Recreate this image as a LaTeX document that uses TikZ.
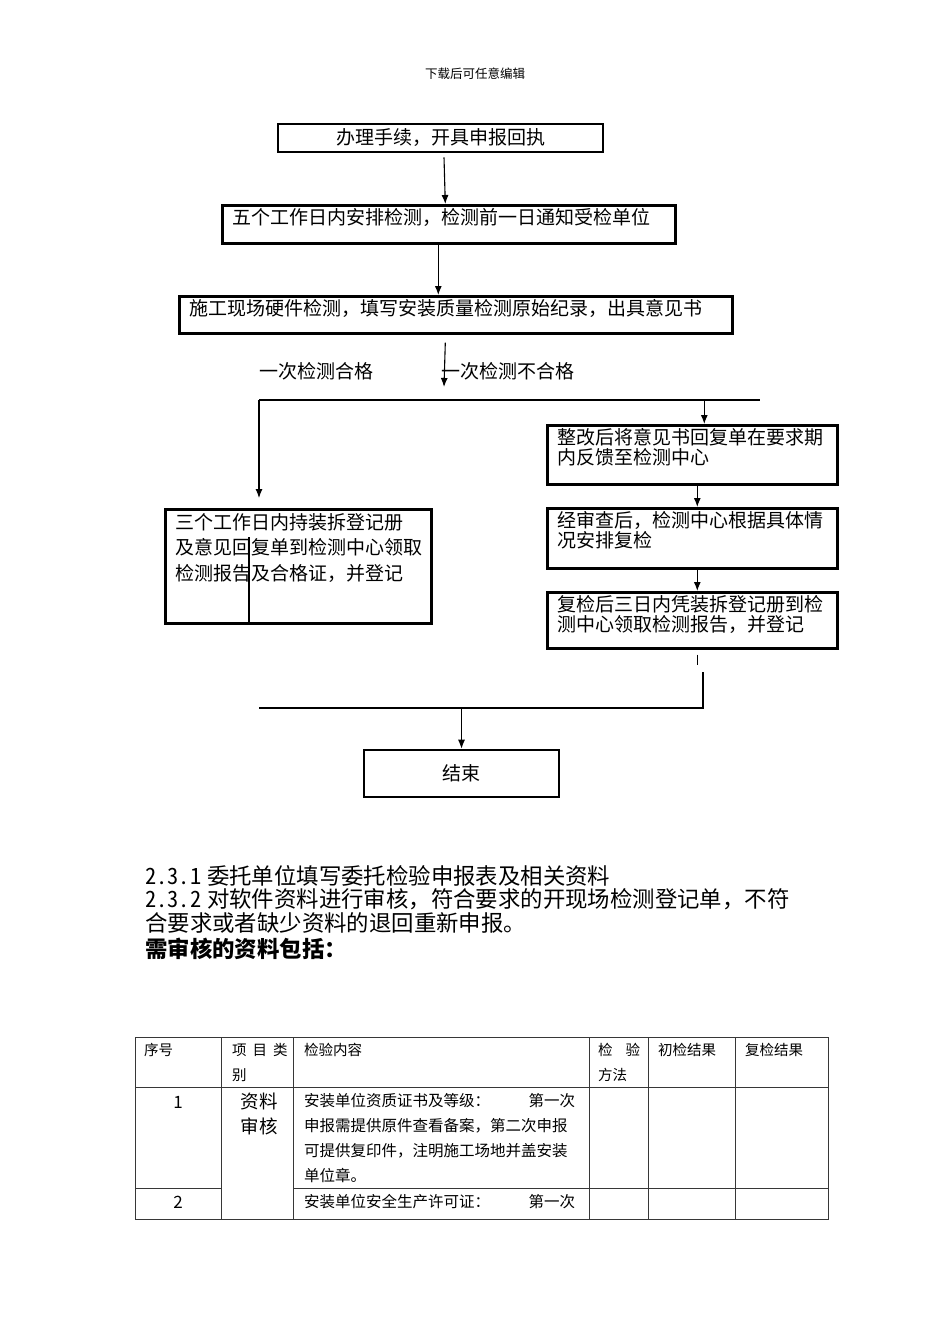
\documentclass[tikz,border=0pt]{standalone}
\usepackage{fontspec}
\setmainfont{Noto Sans CJK SC}
\usetikzlibrary{arrows.meta,calc,positioning}
\definecolor{TableGray}{RGB}{55,55,55}
\newcommand{\zihao}[2]{\fontsize{#1}{#2}\selectfont}
\newcommand{\kuangwen}[3]{\parbox[c][#2][t]{#1}{\raggedright #3}}
\newcommand{\banjiao}[1]{{\addfontfeature{RawFeature=+hwid}#1}\hspace{6pt}}

\begin{document}
\begin{tikzpicture}[x=1pt,y=-1pt,
  liuchengkuang/.style={draw,line width=2.6pt,inner xsep=10pt,inner ysep=3pt,anchor=north west,font=\zihao{19}{20}},
  zhongkuang/.style={draw,line width=2.6pt,inner sep=0pt,font=\zihao{19}{20}},
  lianxian/.style={line width=1.1pt},
  jiantou/.style={lianxian,-{Latex[length=9pt,width=7pt]}},
  biaoxian/.style={line width=0.8pt,TableGray},
  biaowen/.style={inner sep=0pt,anchor=west,font=\zihao{14.5}{25}}]
  \fill[white] (0,0) rectangle (950,1344);
  \node[inner sep=0pt,font=\zihao{12.5}{14}] (yemei) at (475,74) {下载后可任意编辑};
  % flow chart
  \node[zhongkuang,minimum width=325pt,minimum height=28pt] (shouli) at (440.5,138) {办理手续，开具申报回执};
  \node[liuchengkuang] (anpai) at (221,204) {\kuangwen{433pt}{32pt}{五个工作日内安排检测，检测前一日通知受检单位}};
  \node[liuchengkuang] (jiance) at (178,295) {\kuangwen{533pt}{31pt}{施工现场硬件检测，填写安装质量检测原始纪录，出具意见书}};
  \node[liuchengkuang,inner ysep=4pt,font=\zihao{19}{25.5}] (lingqu) at (164,508) {\kuangwen{246pt}{106pt}{三个工作日内持装拆登记册\\及意见回复单到检测中心领取\\检测报告及合格证，并登记}};
  \node[liuchengkuang] (zhenggai) at (546,424) {\kuangwen{270pt}{53pt}{整改后将意见书回复单在要求期\\内反馈至检测中心}};
  \node[liuchengkuang] (fushen) at (546,507) {\kuangwen{270pt}{54pt}{经审查后，检测中心根据具体情\\况安排复检}};
  \node[liuchengkuang] (fujian) at (546,591) {\kuangwen{270pt}{50pt}{复检后三日内凭装拆登记册到检\\测中心领取检测报告，并登记}};
  \node[zhongkuang,minimum width=195pt,minimum height=47pt] (jieshu) at (461.5,773.5) {结束};
  \node[inner sep=0pt,font=\zihao{19}{20}] (hege) at (316,371) {一次检测合格};
  \node[inner sep=0pt,anchor=west,font=\zihao{19}{20}] (buhege) at (441,371) {一次检测不合格};
  \draw[lianxian] (249,537) -- (249,622);
  \coordinate (fenzhi) at (444,387);
  \coordinate (fenL) at (259,400);
  \coordinate (fenR) at (760,400);
  \coordinate (huiL) at (259,708);
  \coordinate (huiR) at (703,708);
  \coordinate (zgru) at ($(zhenggai.north)+(12,0)$);
  \draw[jiantou] ([xshift=3.5pt,yshift=-4pt]shouli.south) -- ([xshift=-3.5pt]anpai.north);
  \draw[jiantou] ([xshift=-10.5pt]anpai.south) -- ([xshift=-17.5pt]jiance.north);
  \draw[jiantou] ([xshift=-10.5pt,yshift=-8pt]jiance.south) -- (fenzhi);
  \draw[lianxian] (fenL) -- (fenR);
  \draw[jiantou] (fenL) -- ($(lingqu.north -| fenL)+(0,-10)$);
  \draw[jiantou] (zgru |- fenL) -- (zgru);
  \draw[jiantou] ([xshift=5pt]zhenggai.south) -- ([xshift=5pt]fushen.north);
  \draw[jiantou] ([xshift=5pt]fushen.south) -- ([xshift=5pt]fujian.north);
  \draw[lianxian] ([xshift=5pt,yshift=-5pt]fujian.south) -- ++(0,10);
  \draw[lianxian] ($(huiR)+(0,-36)$) -- (huiR) -- (huiL);
  \draw[jiantou] (jieshu.north |- huiL) -- (jieshu.north);
  % text
  \node[anchor=north west,inner sep=0pt,align=left,font=\zihao{22.4}{23.6}] (buzhou) at (145,865)
    {\banjiao{2.3.1}委托单位填写委托检验申报表及相关资料\\
     \banjiao{2.3.2}对软件资料进行审核，符合要求的开现场检测登记单，不符\\
     合要求或者缺少资料的退回重新申报。};
  \node[anchor=west,inner sep=0pt,font=\zihao{22.4}{24}\bfseries] (ziliao) at (145,949) {需审核的资料包括：};
  % table
  \draw[biaoxian] (135,1037) rectangle (828,1219);
  \foreach \x in {221,293,589,648,735}
    \draw[biaoxian] (\x,1037) -- (\x,1219);
  \draw[biaoxian] (135,1087) -- (828,1087);
  \draw[biaoxian] (135,1188) -- (221,1188) (293,1188) -- (828,1188);
  \node[biaowen] (xuhao) at (144,1050) {序号};
  \node[biaowen] (leibie) at (232,1050) {项\hspace{6pt}目\hspace{6pt}类};
  \node[biaowen] (leibie2) at (232,1075) {别};
  \node[biaowen] (neirong) at (304,1050) {检验内容};
  \node[biaowen] (fangfa) at (598,1050) {检\hspace{13pt}验};
  \node[biaowen] (fangfa2) at (598,1075) {方法};
  \node[biaowen] (chujian) at (658,1050) {初检结果};
  \node[biaowen] (fujieguo) at (745,1050) {复检结果};
  \node[inner sep=0pt,font=\zihao{17}{20}] (hao1) at (178,1102) {1};
  \node[inner sep=0pt,font=\zihao{17}{20}] (hao2) at (178,1202) {2};
  \node[inner sep=0pt,align=center,font=\zihao{18.5}{25}] (ziliaoshenhe) at (259,1113.5) {资料\\审核};
  \node[anchor=north west,inner sep=0pt,text width=271pt,align=left,font=\zihao{15.5}{25}] (zizhi) at (304,1093)
    {安装单位资质证书及等级：\hfill 第一次\\申报需提供原件查看备案，第二次申报\\可提供复印件，注明施工场地并盖安装\\单位章。};
  \node[anchor=west,inner sep=0pt,text width=271pt,align=left,font=\zihao{15.5}{25}] (xuke) at (304,1202)
    {安装单位安全生产许可证：\hfill 第一次};
\end{tikzpicture}
\end{document}
